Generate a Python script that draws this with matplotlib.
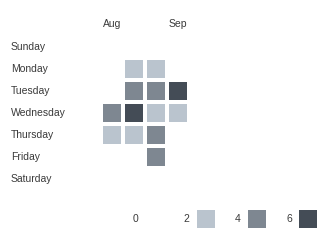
import numpy as np
import matplotlib
matplotlib.use("Agg")
import matplotlib.pyplot as plt
from matplotlib.colors import ListedColormap, BoundaryNorm
from matplotlib.transforms import blended_transform_factory

plt.rcParams['font.family'] = ['Liberation Sans', 'DejaVu Sans']

days = ["Sunday", "Monday", "Tuesday", "Wednesday", "Thursday", "Friday", "Saturday"]
weeks = [0, 1, 2, 3]
month_labels = ["Aug", "Sep"]
month_weeks = [0, 3]
# values[day][week]; None = no data
values = [
    [None, None, None, None],  # Sunday
    [None, 2, 2, None],        # Monday
    [None, 4, 4, 6],           # Tuesday
    [4, 6, 2, 2],              # Wednesday
    [2, 2, 4, None],           # Thursday
    [None, None, 4, None],     # Friday
    [None, None, None, None],  # Saturday
]
legend_levels = [0, 2, 4, 6]
level_colors = ["#ffffff", "#bac4ce", "#7e8791", "#444c56"]

W, H = 330, 246
fig = plt.figure(figsize=(W / 100, H / 100), dpi=100)

def px_axes(l, t, r, b):
    return fig.add_axes([l / W, 1 - b / H, (r - l) / W, (b - t) / H])

ax = px_axes(101, 36.5, 189, 190)
arr = np.ma.masked_invalid(np.array([[np.nan if v is None else v for v in row] for row in values], dtype=float))
cmap = ListedColormap(level_colors[1:])
norm = BoundaryNorm([1, 3, 5, 7], cmap.N)
x_edges = np.arange(len(weeks) + 1) - 0.5
y_edges = np.arange(len(days) + 1) - 0.5
ax.pcolormesh(x_edges, y_edges, arr, cmap=cmap, norm=norm, edgecolors="white", linewidth=1.5)
ax.set_xlim(-0.5, len(weeks) - 0.5)
ax.set_ylim(len(days) - 0.5, -0.5)
ax.axis("off")

tc = "#3a3a3a"
fs = 7.5
trans = blended_transform_factory(fig.transFigure, ax.transData)
for i, d in enumerate(days):
    ax.text(11 / W, i, d, transform=trans, ha="left", va="center", fontsize=fs, color=tc)

trans2 = blended_transform_factory(ax.transData, fig.transFigure)
for m, w in zip(month_labels, month_weeks):
    ax.text(w, 1 - 24 / H, m, transform=trans2, ha="center", va="center", fontsize=fs, color=tc)

# legend
lax = px_axes(110, 205, 330, 233)
lax.set_xlim(-0.5, 3.8)
lax.set_ylim(0, 1)
lax.axis("off")
for i, (lv, c) in enumerate(zip(legend_levels, level_colors)):
    lax.text(i, 0.5, str(lv), ha="center", va="center", fontsize=fs, color=tc)
    lax.scatter([i + 0.37], [0.5], marker="s", s=(18 * 0.72) ** 2, color=c, linewidths=0)

fig.savefig("out.png", dpi=100)
